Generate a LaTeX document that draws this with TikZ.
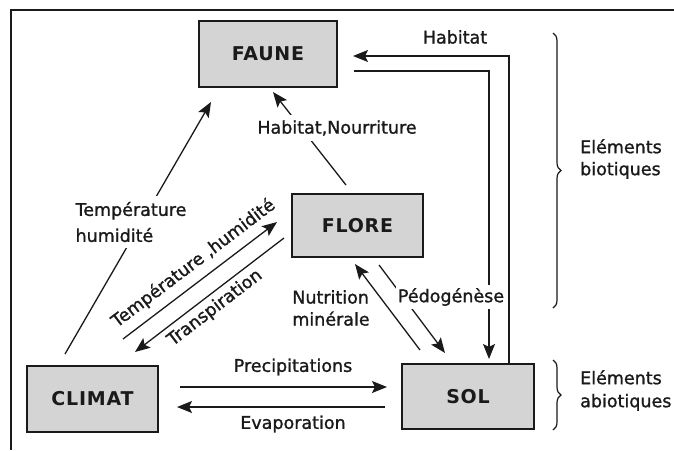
\documentclass[tikz,border=0pt]{standalone}
\usepackage{fontspec}
\setmainfont{DejaVu Sans}[FakeBold=1.2]
\newfontfamily\lblfont{DejaVu Sans}[FakeBold=1.2]
\newfontfamily\boxfont{DejaVu Sans}[LetterSpace=4]
\usetikzlibrary{arrows.meta,decorations.pathreplacing}
\definecolor{ink}{HTML}{1A1A1A}
\begin{document}
\begin{tikzpicture}[x=1pt,y=-1pt,
  boxnode/.style={draw=ink, line width=1.6pt, fill=black!17, inner sep=0pt,
    font=\boxfont\bfseries\fontsize{19}{22}\selectfont, text=ink},
  arr/.style={draw=ink, line width=1.3pt, -{Stealth[length=15pt,width=12pt,inset=3pt]}},
  lbl/.style={font=\lblfont\fontsize{17.5}{22}\selectfont, text=ink, inner sep=0pt},
  gaplbl/.style={lbl, fill=white, inner xsep=3pt, inner ysep=5pt},
  bracestyle/.style={draw=ink, line width=1.2pt, decorate, decoration={brace, amplitude=8pt}}]
\useasboundingbox (0,0) rectangle (674,450);
\fill[white] (0,0) rectangle (674,450);
% frame
\draw[ink, line width=2.7pt] (674,10) -- (11,10) -- (11,450);

% boxes
\node[boxnode, minimum width=138pt, minimum height=66pt] (faune) at (268,54) {FAUNE};
\node[boxnode, minimum width=131pt, minimum height=63pt] (flore) at (357.5,225.5) {FLORE};
\node[boxnode, minimum width=131pt, minimum height=66pt] (climat) at (92.5,399) {CLIMAT};
\node[boxnode, minimum width=132pt, minimum height=65pt] (sol) at (468,396.5) {SOL};

% connector end points
\coordinate (hoS) at (509,364);
\coordinate (hoF) at (353,56);
\coordinate (hiF) at (354,71);
\coordinate (hiS) at (489,359);
\coordinate (hnS) at (346,185);
\coordinate (hnF) at (273,92);
\coordinate (thC) at (65,354);
\coordinate (thF) at (211,102);
\coordinate (tC) at (123,339);
\coordinate (tF) at (277,222);
\coordinate (trF) at (284,238);
\coordinate (trC) at (135,352);
\coordinate (nS) at (420,350);
\coordinate (nF) at (355,264);
\coordinate (pF) at (379,265);
\coordinate (pS) at (445,353);
\coordinate (prC) at (180,387);
\coordinate (prS) at (387,387);
\coordinate (evS) at (385,407);
\coordinate (evC) at (177,407);

% connectors
\draw[arr] (hoS) |- (hoF);
\draw[arr] (hiF) -| (hiS);
\draw[arr] (hnS) -- (hnF);
\draw[arr] (thC) -- (thF);
\draw[arr] (tC) -- (tF);
\draw[arr] (trF) -- (trC);
\draw[arr] (nS) -- (nF);
\draw[arr] (pF) -- (pS);
\draw[arr] (prC) -- (prS);
\draw[arr] (evS) -- (evC);

% labels
\node[lbl] (lhab) at (455,37) {Habitat};
\node[gaplbl] (lhn) at (337,128) {Habitat,Nourriture};
\node[gaplbl, align=left, font=\lblfont\fontsize{17.5}{26}\selectfont, inner ysep=6pt] (lth) at (131,222) {Température\\humidité};
\node[lbl, rotate=37.2] (lt) at (193.5,263.5) {Température ,humidité};
\node[lbl, rotate=37.4] (ltr) at (215,308) {Transpiration};
\node[lbl, align=left] (lnut) at (331,308) {Nutrition\\minérale};
\node[gaplbl, inner xsep=2pt, inner ysep=3pt] (lped) at (451,297) {Pédogénèse};
\node[lbl] (lpr) at (293,367) {Precipitations};
\node[lbl] (lev) at (293,424) {Evaporation};

% braces
\coordinate (b1t) at (553,33);
\coordinate (b1b) at (553,308);
\coordinate (b2t) at (553,360);
\coordinate (b2b) at (553,430);
\draw[bracestyle] (b1t) -- (b1b);
\draw[bracestyle] (b2t) -- (b2b);
\node[lbl, anchor=west, align=left] (lbio) at (580,159) {Eléments\\biotiques};
\node[lbl, anchor=west, align=left, font=\lblfont\fontsize{17.5}{23}\selectfont] (labio) at (580,390.5) {Eléments\\abiotiques};
\end{tikzpicture}
\end{document}
